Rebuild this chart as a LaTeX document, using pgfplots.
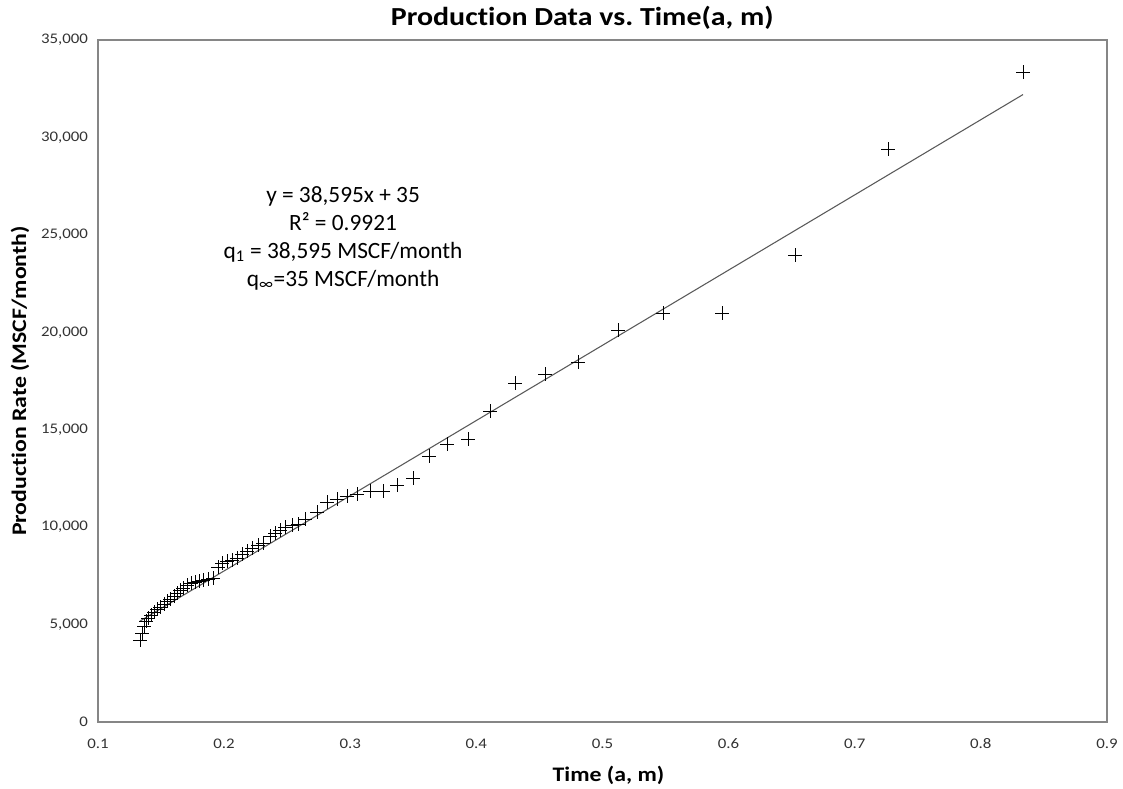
\documentclass[border=0pt]{standalone}
\usepackage{pgfplots}
\pgfplotsset{compat=1.18}
\usepackage{fontspec}
\setmainfont{Carlito}[Ligatures=NoCommon]
\newfontfamily\widefont{Carlito}[FakeStretch=1.15, Ligatures=NoCommon]
\definecolor{axisgray}{HTML}{868686}
\definecolor{fitgray}{HTML}{595959}
\definecolor{ticktext}{HTML}{333333}

\begin{document}
\begin{tikzpicture}
\begin{axis}[
  name=ax,
  scale only axis,
  width=756.75pt, height=511.5pt,
  xmin=0.1, xmax=0.9, ymin=0, ymax=35000,
  xtick={0.1,0.2,...,0.9},
  ytick={0,5000,...,35000},
  major tick length=0pt,
  axis line style={axisgray, line width=0.9pt},
  /pgf/number format/assume math mode=true,
  xticklabel style={font=\widefont\fontsize{11}{13}\selectfont, text=ticktext,
    /pgf/number format/.cd, fixed, precision=1},
  yticklabel style={font=\widefont\fontsize{11}{13}\selectfont, text=ticktext,
    /pgf/number format/.cd, fixed, 1000 sep={,}},
  scaled y ticks=false,
  xticklabel shift=9pt,
  yticklabel shift=4pt,
  every axis title shift=0pt,
  title={Production Data vs.\ Time(a, m)},
  title style={font=\widefont\bfseries\fontsize{19.5}{22}\selectfont,
    at={(axis description cs:0.48,1.032)}, anchor=center, yshift=0pt},
  xlabel={Time (a, m)},
  xlabel style={font=\widefont\bfseries\fontsize{15.5}{18}\selectfont,
    at={(axis description cs:0.506,-0.0777)}, anchor=center},
  ylabel={Production Rate (MSCF/month)},
  ylabel style={font=\widefont\bfseries\fontsize{15.5}{18}\selectfont,
    at={(axis description cs:-0.0773,0.5)}, anchor=center},
  clip=false,
]
% linear fit y = 38,595x + 35 over the data range
\addplot[fitgray, line width=0.8pt] coordinates {(0.1333,5180) (0.8334,32200)};
% production data
\addplot[only marks, mark=+, mark size=5pt, black, line width=0.6pt] coordinates {
(0.1333,4208) (0.1349,4567) (0.1365,4927) (0.1381,5183) (0.1396,5337)
(0.1420,5491) (0.1444,5645) (0.1468,5799) (0.1492,5902) (0.1523,6056)
(0.1547,6210) (0.1571,6312) (0.1603,6466) (0.1626,6620) (0.1650,6774)
(0.1674,6877) (0.1706,7031) (0.1737,7133) (0.1769,7185) (0.1801,7236)
(0.1833,7287) (0.1872,7339) (0.1912,7390) (0.1951,7955) (0.1983,8160)
(0.2023,8263) (0.2062,8314) (0.2102,8416) (0.2142,8622) (0.2181,8776)
(0.2221,8930) (0.2269,9084) (0.2308,9186) (0.2364,9546) (0.2403,9699)
(0.2443,9853) (0.2483,10007) (0.2538,10110) (0.2586,10161) (0.2641,10418)
(0.2736,10777) (0.2816,11290) (0.2895,11444) (0.2974,11598) (0.3054,11701)
(0.3157,11855) (0.3260,11855) (0.3371,12163) (0.3498,12522) (0.3624,13651)
(0.3767,14267) (0.3934,14524) (0.4108,15961) (0.4306,17398) (0.4544,17859)
(0.4806,18475) (0.5123,20117) (0.5480,20990) (0.5948,20990) (0.6526,23966)
(0.7264,29406) (0.8334,33358)
};
% fit equation and parameters
\node[align=center, font=\fontsize{17.5}{21}\selectfont, text=black]
  at (axis cs:0.2943,24840)
  {y = 38,595x + 35\\
   R² = 0.9921\\
   q\textsubscript{1} = 38,595 MSCF/month\\
   q\textsubscript{∞}=35 MSCF/month};
\coordinate (o) at (rel axis cs:0,0);
\end{axis}
\pgfresetboundingbox
\path (o) ++(-73.5pt,-49.5pt) rectangle ++(842.25pt,591pt);
\end{tikzpicture}
\end{document}
